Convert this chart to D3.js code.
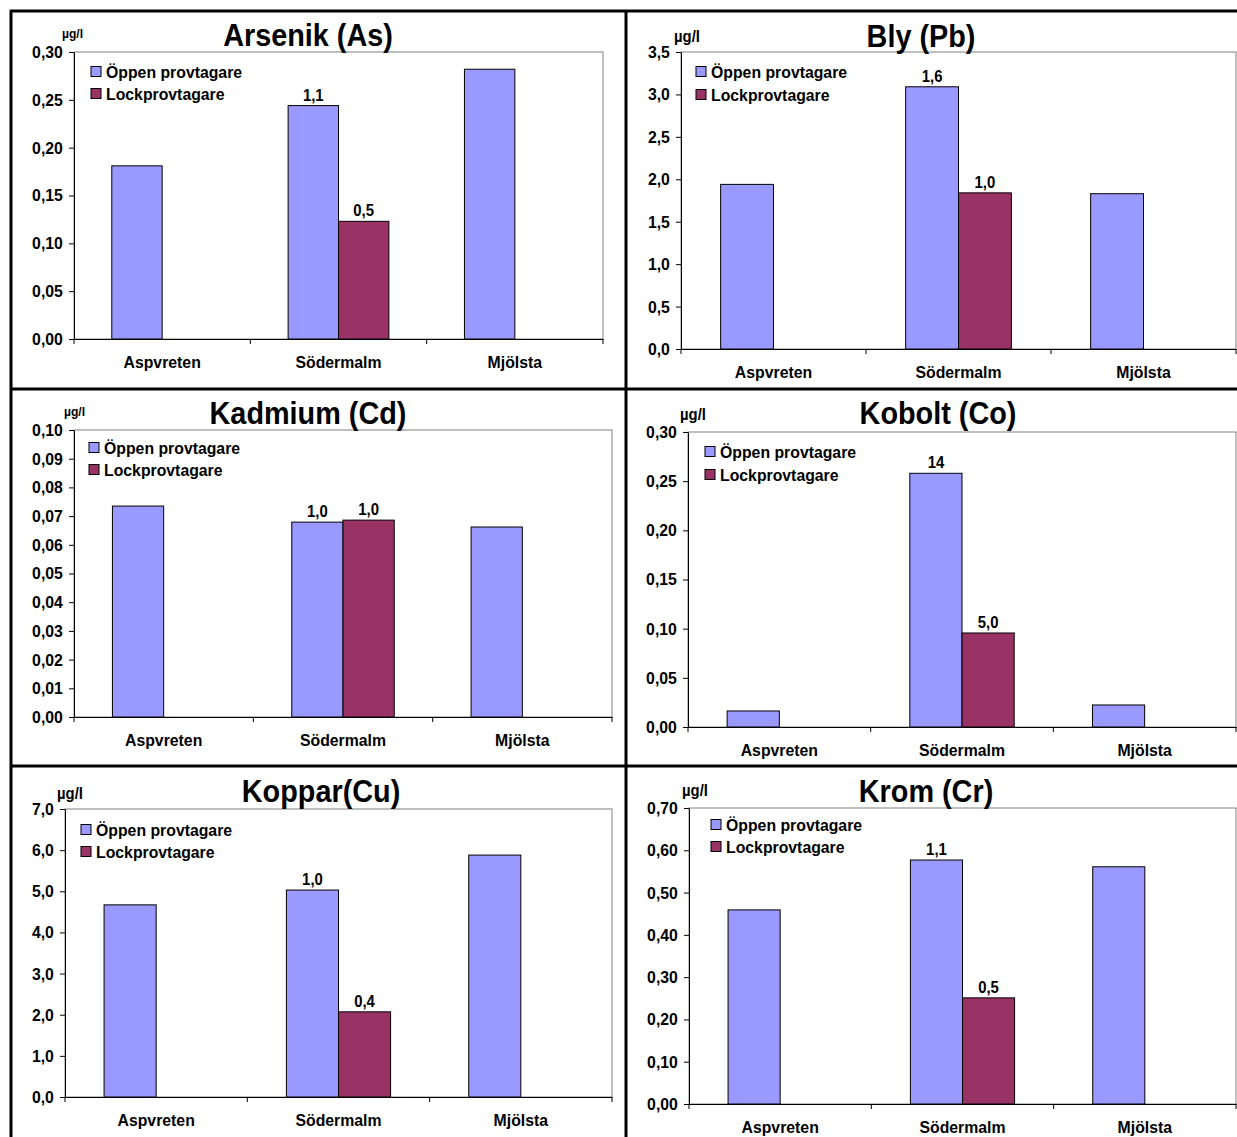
<!DOCTYPE html>
<html>
<head>
<meta charset="utf-8">
<script src="https://cdn.jsdelivr.net/npm/d3@7"></script>
<style>
  html, body { margin: 0; padding: 0; background: #fff; }
  svg { display: block; }
  text { font-family: "Liberation Sans", Arial, sans-serif; font-weight: bold; fill: #000; }
</style>
</head>
<body>
<svg id="chart" width="1237" height="1137"></svg>
<script>
// ---------- DATA ----------
const categories = ["Aspvreten", "Södermalm", "Mjölsta"];
const seriesNames = ["Öppen provtagare", "Lockprovtagare"];

const arsenikOppen = [0.181, 0.244, 0.282];
const arsenikLock  = [null, 0.123, null];
const arsenikLabels = [null, "1,1", null, null, "0,5", null];
const arsenikTicks = [0, 0.05, 0.10, 0.15, 0.20, 0.25, 0.30];

const blyOppen = [1.94, 3.09, 1.83];
const blyLock  = [null, 1.84, null];
const blyLabels = [null, "1,6", null, null, "1,0", null];
const blyTicks = [0, 0.5, 1.0, 1.5, 2.0, 2.5, 3.0, 3.5];

const kadmiumOppen = [0.0735, 0.0679, 0.0662];
const kadmiumLock  = [null, 0.0686, null];
const kadmiumLabels = [null, "1,0", null, null, "1,0", null];
const kadmiumTicks = [0, 0.01, 0.02, 0.03, 0.04, 0.05, 0.06, 0.07, 0.08, 0.09, 0.10];

const koboltOppen = [0.0163, 0.258, 0.0224];
const koboltLock  = [null, 0.0956, null];
const koboltLabels = [null, "14", null, null, "5,0", null];
const koboltTicks = [0, 0.05, 0.10, 0.15, 0.20, 0.25, 0.30];

const kopparOppen = [4.67, 5.03, 5.88];
const kopparLock  = [null, 2.07, null];
const kopparLabels = [null, "1,0", null, null, "0,4", null];
const kopparTicks = [0, 1, 2, 3, 4, 5, 6, 7];

const kromOppen = [0.459, 0.577, 0.561];
const kromLock  = [null, 0.251, null];
const kromLabels = [null, "1,1", null, null, "0,5", null];
const kromTicks = [0, 0.1, 0.2, 0.3, 0.4, 0.5, 0.6, 0.7];

const titles = ["Arsenik (As)", "Bly (Pb)", "Kadmium (Cd)", "Kobolt (Co)", "Koppar(Cu)", "Krom (Cr)"];
const unitLabel = "µg/l";

// ---------- LAYOUT ----------
const colors = ["#9999FF", "#993366"];
const locale = d3.formatLocale({decimal: ",", thousands: " ", grouping: [3], currency: ["", " kr"]});
const SX = 0.93; // slight horizontal condensing of text

const panels = [
  {title: titles[0], oppen: arsenikOppen, lock: arsenikLock, labels: arsenikLabels, ticks: arsenikTicks, dec: 2,
   x0: 74, x1: 603, yTop: 52, yBot: 339, tx: 308, ty: 46, ux: 62, uy: 38, us: 12, lx: 91, ly: 72, lg: 22},
  {title: titles[1], oppen: blyOppen, lock: blyLock, labels: blyLabels, ticks: blyTicks, dec: 1,
   x0: 681, x1: 1236, yTop: 52, yBot: 349, tx: 921, ty: 47, ux: 674, uy: 42, us: 15, lx: 696, ly: 72, lg: 23},
  {title: titles[2], oppen: kadmiumOppen, lock: kadmiumLock, labels: kadmiumLabels, ticks: kadmiumTicks, dec: 2,
   x0: 74, x1: 612, yTop: 430, yBot: 717, tx: 308, ty: 424, ux: 64, uy: 416, us: 12, lx: 89, ly: 448, lg: 22},
  {title: titles[3], oppen: koboltOppen, lock: koboltLock, labels: koboltLabels, ticks: koboltTicks, dec: 2,
   x0: 688, x1: 1236, yTop: 432, yBot: 727, tx: 938, ty: 424, ux: 680, uy: 420, us: 15, lx: 705, ly: 452, lg: 23},
  {title: titles[4], oppen: kopparOppen, lock: kopparLock, labels: kopparLabels, ticks: kopparTicks, dec: 1,
   x0: 65, x1: 612, yTop: 809, yBot: 1097, tx: 321, ty: 802, ux: 57, uy: 799, us: 15, lx: 81, ly: 830, lg: 22},
  {title: titles[5], oppen: kromOppen, lock: kromLock, labels: kromLabels, ticks: kromTicks, dec: 2,
   x0: 689, x1: 1236, yTop: 808, yBot: 1104, tx: 926, ty: 802, ux: 682, uy: 796, us: 15, lx: 711, ly: 825, lg: 22}
];

const svg = d3.select("#chart");
svg.append("rect").attr("width", 1237).attr("height", 1137).attr("fill", "#fff");

function condensed(sel, x, y) {
  return sel.attr("transform", `translate(${x},${y}) scale(${SX},1)`);
}

panels.forEach(p => {
  const g = svg.append("g");
  const x = d3.scaleBand().domain(categories).range([p.x0, p.x1]).padding(0);
  const bw = x.bandwidth();
  const xs = d3.scaleBand().domain(seriesNames).range([bw * 0.75 / 3.5, bw * 2.75 / 3.5]).padding(0);
  const y = d3.scaleLinear().domain([0, p.ticks[p.ticks.length - 1]]).range([p.yBot, p.yTop]);
  const fmt = locale.format("." + p.dec + "f");

  // plot area border
  g.append("rect").attr("x", p.x0).attr("y", p.yTop)
    .attr("width", p.x1 - p.x0).attr("height", p.yBot - p.yTop)
    .attr("fill", "none").attr("stroke", "#808080").attr("stroke-width", 1);

  // bars
  const rows = [];
  categories.forEach((c, i) => {
    rows.push({c, s: seriesNames[0], v: p.oppen[i], lab: p.labels[i], k: 0});
    rows.push({c, s: seriesNames[1], v: p.lock[i], lab: p.labels[i + 3], k: 1});
  });
  const valid = rows.filter(r => r.v != null);
  g.selectAll("rect.bar").data(valid).join("rect").attr("class", "bar")
    .attr("x", d => x(d.c) + xs(d.s))
    .attr("y", d => y(d.v))
    .attr("width", xs.bandwidth())
    .attr("height", d => y(0) - y(d.v))
    .attr("fill", d => colors[d.k])
    .attr("stroke", "#000").attr("stroke-width", 1);
  g.selectAll("text.val").data(valid.filter(d => d.lab)).join("text").attr("class", "val")
    .attr("transform", d => `translate(${x(d.c) + xs(d.s) + xs.bandwidth() / 2},${y(d.v) - 5}) scale(${SX},1)`)
    .attr("text-anchor", "middle").attr("font-size", 16)
    .text(d => d.lab);

  // y axis
  const ya = g.append("g").attr("transform", `translate(${p.x0},0)`)
    .call(d3.axisLeft(y).tickValues(p.ticks).tickFormat(fmt).tickSize(5).tickSizeOuter(0).tickPadding(7));
  ya.selectAll("text").attr("font-size", 17)
    .attr("transform", `scale(${SX},1)`)
    .style("font-family", "'Liberation Sans', Arial, sans-serif").style("font-weight", "bold");
  ya.selectAll("path, line").attr("stroke", "#000");

  // x axis (labels)
  const xa = g.append("g").attr("transform", `translate(0,${p.yBot})`)
    .call(d3.axisBottom(x).tickSize(0).tickPadding(17).tickSizeOuter(0));
  xa.selectAll("text").attr("font-size", 17)
    .attr("transform", `scale(${SX},1)`)
    .style("font-family", "'Liberation Sans', Arial, sans-serif").style("font-weight", "bold");
  xa.select("path").attr("stroke", "#000");
  // category boundary ticks
  const bounds = categories.map(c => x(c)).concat([x.range()[1]]);
  g.selectAll("line.ct").data(bounds).join("line").attr("class", "ct")
    .attr("x1", d => d).attr("x2", d => d)
    .attr("y1", p.yBot).attr("y2", p.yBot + 5)
    .attr("stroke", "#000");

  // title & unit
  condensed(g.append("text"), p.tx, p.ty).attr("text-anchor", "middle")
    .attr("font-size", 31).text(p.title);
  condensed(g.append("text"), p.ux, p.uy).attr("font-size", p.us + 1).text(unitLabel);

  // legend
  seriesNames.forEach((s, i) => {
    const ly = p.ly + i * p.lg;
    g.append("rect").attr("x", p.lx).attr("y", ly - 5.5).attr("width", 10).attr("height", 10)
      .attr("fill", colors[i]).attr("stroke", "#000").attr("stroke-width", 1);
    condensed(g.append("text"), p.lx + 15, ly + 6).attr("font-size", 17).text(s);
  });
});

// table grid lines
const gridV = [11, 626];
const gridH = [11, 389, 766];
svg.selectAll("line.gv").data(gridV).join("line")
  .attr("x1", d => d).attr("x2", d => d).attr("y1", 10).attr("y2", 1137)
  .attr("stroke", "#000").attr("stroke-width", 3);
svg.selectAll("line.gh").data(gridH).join("line")
  .attr("x1", 10).attr("x2", 1237).attr("y1", d => d).attr("y2", d => d)
  .attr("stroke", "#000").attr("stroke-width", 3);
</script>
</body>
</html>
